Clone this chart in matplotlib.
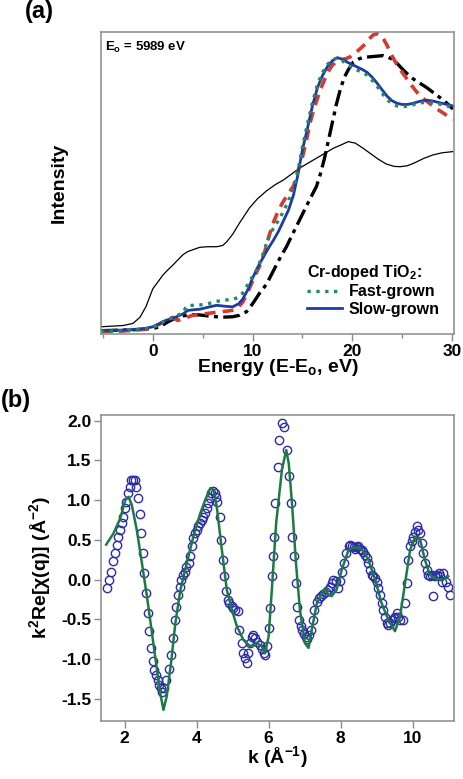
import numpy as np
import matplotlib
matplotlib.use("Agg")
import matplotlib.pyplot as plt
from matplotlib.ticker import MultipleLocator, FormatStrFormatter

plt.rcParams['font.family'] = ['Liberation Sans', 'DejaVu Sans']
plt.rcParams['font.weight'] = 'bold'
plt.rcParams['axes.labelweight'] = 'bold'
plt.rcParams['mathtext.fontset'] = 'custom'
plt.rcParams['mathtext.rm'] = 'Liberation Sans:bold'
plt.rcParams['mathtext.bf'] = 'Liberation Sans:bold'
plt.rcParams['mathtext.default'] = 'bf'

# ---- panel (a): XANES, normalised so the axes run 0..1
e_ref = [-5.2, -3, -2, -1.3, -0.7, 0, 0.5, 1.0, 1.5, 2.0, 3.0, 3.5, 4.7, 5.5, 6.4, 7.0, 7.4,
         8.0, 8.7, 9.7, 10.5, 11.4, 12.3, 13.1, 14.7, 16.4, 18.1, 19.0, 19.6, 20.3, 21.0, 21.8,
         22.6, 23.4, 24.2, 24.8, 25.5, 26.2, 27.2, 28.1, 29.0, 30.1]
i_ref = [0.024, 0.028, 0.035, 0.055, 0.09, 0.15, 0.172, 0.195, 0.212, 0.228, 0.262, 0.273, 0.287,
         0.289, 0.289, 0.293, 0.305, 0.33, 0.368, 0.418, 0.448, 0.474, 0.495, 0.51, 0.549, 0.582,
         0.615, 0.628, 0.637, 0.632, 0.617, 0.598, 0.579, 0.563, 0.555, 0.554, 0.557, 0.566,
         0.582, 0.593, 0.6, 0.604]

e_dd = [-5.2, -2, 0, 0.7, 1.5, 2.2, 3.0, 4.0, 4.7, 5.5, 6.4, 7.2, 8.0, 8.7, 9.4, 10.0, 10.7,
        11.4, 12.1, 12.8, 13.4, 14.0, 14.6, 15.2, 15.8, 16.4, 16.8, 17.2, 17.6, 18.0, 18.4, 18.8,
        19.2, 19.6, 20.1, 20.6, 21.1, 21.8, 22.5, 23.1, 23.5, 24.0, 24.5, 25.0, 25.5, 26.1, 26.8,
        27.5, 28.1, 28.7, 29.3, 30.1]
i_dd = [0.011, 0.014, 0.018, 0.024, 0.04, 0.052, 0.06, 0.064, 0.063, 0.06, 0.057, 0.056, 0.057,
        0.062, 0.074, 0.1, 0.135, 0.165, 0.21, 0.255, 0.289, 0.33, 0.37, 0.41, 0.45, 0.488, 0.53,
        0.58, 0.64, 0.7, 0.76, 0.81, 0.85, 0.875, 0.9, 0.91, 0.916, 0.918, 0.92, 0.922, 0.918,
        0.91, 0.896, 0.878, 0.862, 0.845, 0.83, 0.815, 0.8, 0.785, 0.77, 0.745]

e_red = [-5.2, -3, -1, 0, 0.8, 1.5, 2.0, 2.5, 3.0, 4.0, 5.0, 6.4, 7.5, 8.3, 9.0, 9.6, 10.2,
         10.7, 11.2, 11.7, 12.1, 12.6, 13.1, 13.6, 14.1, 14.6, 15.0, 15.4, 15.75, 16.2, 16.7,
         17.25, 17.6, 18.0, 18.4, 18.9, 19.4, 19.8, 20.3, 20.8, 21.3, 21.7, 22.1, 22.5, 23.0,
         23.5, 24.0, 24.5, 25.1, 25.8, 26.3, 26.8, 27.5, 28.0, 28.5, 29.2, 29.8, 30.1]
i_red = [0.008, 0.01, 0.015, 0.022, 0.035, 0.05, 0.055, 0.045, 0.05, 0.062, 0.066, 0.072, 0.076,
         0.08, 0.105, 0.145, 0.19, 0.225, 0.27, 0.33, 0.37, 0.41, 0.44, 0.465, 0.49, 0.545,
         0.586, 0.64, 0.698, 0.75, 0.8, 0.845, 0.87, 0.89, 0.902, 0.908, 0.912, 0.918, 0.93,
         0.945, 0.96, 0.978, 0.99, 0.995, 0.985, 0.955, 0.92, 0.89, 0.862, 0.83, 0.808, 0.788,
         0.77, 0.757, 0.745, 0.73, 0.715, 0.71]

e_slow = [-5.2, -3, -1, 0, 0.7, 1.35, 2.0, 3.0, 3.5, 4.0, 4.7, 5.7, 6.4, 7.2, 8.0, 8.6, 9.0,
          9.5, 10.0, 10.5, 11.1, 11.6, 12.1, 12.6, 13.1, 13.6, 14.1, 14.5, 15.0, 15.5, 16.0,
          16.5, 17.0, 17.5, 18.0, 18.5, 19.0, 19.5, 20.0, 20.5, 21.0, 21.5, 22.0, 22.5, 23.0,
          23.5, 24.0, 24.5, 25.0, 25.5, 26.0, 26.5, 27.0, 27.5, 28.0, 28.5, 29.0, 29.5, 30.1]
i_slow = [0.011, 0.013, 0.017, 0.024, 0.035, 0.046, 0.052, 0.066, 0.078, 0.08, 0.082, 0.09,
          0.095, 0.092, 0.09, 0.1, 0.115, 0.145, 0.185, 0.22, 0.256, 0.285, 0.311, 0.34, 0.375,
          0.41, 0.46, 0.52, 0.61, 0.68, 0.755, 0.815, 0.855, 0.885, 0.905, 0.915, 0.91, 0.9,
          0.892, 0.884, 0.876, 0.866, 0.85, 0.83, 0.808, 0.787, 0.772, 0.764, 0.76, 0.76, 0.763,
          0.768, 0.772, 0.774, 0.772, 0.768, 0.764, 0.76, 0.755]

e_fast = [-5.2, -3, -1, 0, 0.7, 1.35, 2.0, 3.0, 3.4, 4.0, 4.7, 5.5, 6.4, 7.2, 8.0, 8.5, 9.0,
          9.4, 10.0, 10.4, 11.0, 11.7, 12.3, 13.0, 13.6, 14.1, 14.5, 15.0, 15.5, 16.0, 16.5,
          17.0, 17.5, 18.0, 18.5, 19.0, 19.5, 20.0, 20.5, 21.0, 21.5, 22.0, 22.5, 23.0, 23.5,
          24.0, 24.5, 25.0, 25.5, 26.0, 26.5, 27.0, 27.5, 28.0, 28.5, 29.0, 29.5, 30.1]
i_fast = [0.008, 0.01, 0.016, 0.022, 0.034, 0.046, 0.054, 0.07, 0.093, 0.095, 0.096, 0.1, 0.108,
          0.112, 0.115, 0.12, 0.135, 0.157, 0.19, 0.212, 0.26, 0.33, 0.36, 0.4, 0.44, 0.485,
          0.53, 0.62, 0.695, 0.765, 0.825, 0.865, 0.892, 0.908, 0.914, 0.905, 0.892, 0.882,
          0.874, 0.866, 0.857, 0.84, 0.82, 0.797, 0.776, 0.762, 0.755, 0.753, 0.754, 0.758,
          0.763, 0.766, 0.767, 0.766, 0.763, 0.759, 0.755, 0.75]

# ---- panel (b): EXAFS data (circles) and fit (line)
k_data = [1.51, 1.56, 1.62, 1.68, 1.72, 1.79, 1.83, 1.88, 1.93, 1.95, 2.0, 2.05, 2.09, 2.14, 2.18,
          2.23, 2.28, 2.32, 2.36, 2.42, 2.45, 2.51, 2.55, 2.59, 2.64, 2.68, 2.73, 2.78, 2.82, 2.87,
          2.92, 2.96, 3.01, 3.05, 3.1, 3.16, 3.22, 3.29, 3.34, 3.39, 3.43, 3.48, 3.53, 3.57, 3.62,
          3.67, 3.71, 3.78, 3.82, 3.87, 3.91, 3.96, 4.0, 4.05, 4.1, 4.15, 4.19, 4.24, 4.28, 4.33,
          4.36, 4.4, 4.45, 4.5, 4.54, 4.58, 4.64, 4.67, 4.73, 4.77, 4.81, 4.86, 4.91, 4.98, 5.02,
          5.08, 5.14, 5.19, 5.25, 5.3, 5.35, 5.4, 5.44, 5.49, 5.53, 5.58, 5.63, 5.67, 5.75, 5.81,
          5.86, 5.9, 5.95, 6.0, 6.04, 6.09, 6.12, 6.15, 6.19, 6.25, 6.3, 6.37, 6.43, 6.5, 6.56,
          6.62, 6.66, 6.71, 6.75, 6.8, 6.85, 6.89, 6.94, 6.99, 7.03, 7.08, 7.12, 7.17, 7.22, 7.27,
          7.34, 7.4, 7.46, 7.52, 7.59, 7.64, 7.71, 7.75, 7.8, 7.86, 7.92, 7.98, 8.04, 8.1, 8.15,
          8.22, 8.26, 8.31, 8.36, 8.4, 8.45, 8.49, 8.54, 8.59, 8.63, 8.68, 8.73, 8.77, 8.82, 8.86,
          8.91, 8.96, 9.0, 9.05, 9.1, 9.14, 9.19, 9.23, 9.28, 9.33, 9.37, 9.42, 9.47, 9.51, 9.56,
          9.6, 9.65, 9.72, 9.79, 9.84, 9.88, 9.93, 9.97, 10.02, 10.07, 10.11, 10.16, 10.21, 10.25,
          10.3, 10.34, 10.39, 10.44, 10.48, 10.53, 10.58, 10.62, 10.67, 10.72, 10.76, 10.81,
          10.85, 10.94, 10.99, 11.04]
chi_data = [-0.11, -0.01, 0.1, 0.23, 0.33, 0.44, 0.54, 0.62, 0.71, 0.79, 0.9, 0.98, 1.09, 1.17,
            1.25, 1.25, 1.25, 1.17, 1.02, 0.83, 0.58, 0.33, 0.08, -0.17, -0.42, -0.65, -0.86,
            -1.03, -1.14, -1.2, -1.26, -1.33, -1.37, -1.41, -1.37, -1.26, -1.12, -0.95, -0.74,
            -0.51, -0.34, -0.19, -0.09, 0.0, 0.06, 0.1, 0.16, 0.21, 0.29, 0.42, 0.52, 0.58, 0.62,
            0.67, 0.71, 0.75, 0.79, 0.84, 0.9, 0.96, 1.02, 1.09, 1.11, 1.09, 1.04, 0.98, 0.79,
            0.5, 0.25, 0.04, -0.15, -0.26, -0.3, -0.33, -0.36, -0.38, -0.4, -0.63, -0.8, -0.93,
            -0.99, -1.05, -0.93, -0.8, -0.72, -0.7, -0.74, -0.78, -0.82, -0.88, -0.93, -0.95,
            -0.84, -0.61, -0.36, 0.04, 0.29, 0.54, 0.96, 1.42, 1.76, 1.97, 1.92, 1.63, 1.3, 0.96,
            0.54, 0.29, -0.05, -0.34, -0.51, -0.59, -0.63, -0.68, -0.72, -0.75, -0.7, -0.63,
            -0.51, -0.38, -0.28, -0.23, -0.21, -0.18, -0.16, -0.13, -0.09, -0.05, 0.0, -0.02,
            -0.11, -0.02, 0.1, 0.21, 0.33, 0.42, 0.44, 0.42, 0.41, 0.39, 0.41, 0.42, 0.39, 0.37,
            0.35, 0.31, 0.27, 0.21, 0.12, 0.06, 0.04, 0.02, -0.03, -0.11, -0.19, -0.3, -0.38,
            -0.47, -0.55, -0.57, -0.55, -0.51, -0.49, -0.47, -0.42, -0.47, -0.51, -0.51, -0.3,
            -0.05, 0.25, 0.42, 0.48, 0.54, 0.6, 0.67, 0.62, 0.58, 0.46, 0.33, 0.21, 0.12, 0.06,
            0.04, 0.06, -0.21, 0.04, 0.06, 0.08, 0.04, -0.03, 0.08, -0.03, -0.09, -0.19]

k_fit = [1.49, 1.69, 1.88, 2.02, 2.11, 2.2, 2.34, 2.48, 2.62, 2.76, 2.9, 2.99, 3.08, 3.17, 3.29,
         3.41, 3.55, 3.73, 3.91, 4.1, 4.24, 4.38, 4.47, 4.56, 4.7, 4.84, 4.98, 5.12, 5.3, 5.49,
         5.67, 5.81, 5.9, 6.0, 6.09, 6.21, 6.37, 6.49, 6.56, 6.65, 6.76, 6.87, 7.01, 7.11, 7.2,
         7.34, 7.48, 7.57, 7.66, 7.75, 7.89, 8.03, 8.22, 8.4, 8.59, 8.77, 8.96, 9.14, 9.33, 9.51,
         9.65, 9.79, 9.93, 10.07, 10.21, 10.34, 10.48, 10.67, 10.85, 10.99]
chi_fit = [0.44, 0.58, 0.77, 1.0, 1.04, 0.94, 0.62, 0.21, -0.21, -0.67, -1.14, -1.43, -1.64,
           -1.47, -1.05, -0.55, -0.13, 0.21, 0.54, 0.83, 1.0, 1.15, 1.13, 0.92, 0.38, -0.13,
           -0.38, -0.59, -0.76, -0.84, -0.8, -0.84, -0.93, -0.72, -0.13, 0.71, 1.38, 1.63, 1.46,
           0.96, 0.21, -0.38, -0.8, -0.86, -0.63, -0.3, -0.17, -0.11, -0.19, -0.21, -0.13, 0.12,
           0.37, 0.41, 0.38, 0.25, 0.0, -0.3, -0.51, -0.65, -0.47, -0.05, 0.37, 0.54, 0.5, 0.25,
           0.06, 0.0, 0.0, 0.04]

W, H = 464, 779
fig = plt.figure(figsize=(W / 100, H / 100), dpi=100)

spine_col = '#8a8a8a'


def style_axes(ax):
    for s in ax.spines.values():
        s.set_color(spine_col)
        s.set_linewidth(1.1)
    ax.tick_params(which='both', direction='out', color=spine_col, labelsize=12.5,
                   labelcolor='black', width=1)
    ax.tick_params(which='major', length=5, pad=2)
    ax.tick_params(which='minor', length=3)
    for t in ax.get_xticklabels() + ax.get_yticklabels():
        t.set_fontweight('bold')


# (a)
ax1 = fig.add_axes([101 / W, 1 - 334 / H, 353 / W, 302 / H])
ax1.plot(e_ref, i_ref, color='black', lw=0.9)
ax1.plot(e_dd, i_dd, color='black', lw=2.4, dashes=(5, 1.6, 1.2, 1.6))
ax1.plot(e_red, i_red, color='#d23b35', lw=2.6, dashes=(3, 2))
ax1.plot(e_slow, i_slow, color='#1f3aa5', lw=2.0, label='Slow-grown')
ax1.plot(e_fast, i_fast, color='#238a5c', lw=2.4, ls=':', label='Fast-grown')
ax1.set_xlim(-5.2, 30.2)
ax1.set_ylim(0, 1.0)
ax1.set_yticks([])
ax1.xaxis.set_major_locator(MultipleLocator(10))
ax1.xaxis.set_minor_locator(MultipleLocator(5))
style_axes(ax1)
ax1.set_xlabel('Energy (E-E$_o$, eV)', fontsize=14, labelpad=-1)
ax1.set_ylabel('Intensity', fontsize=14, labelpad=24)
ax1.text(0.012, 0.95, 'E$_o$ = 5989 eV', transform=ax1.transAxes, fontsize=9.5,
         ha='left', va='center')
h, l = ax1.get_legend_handles_labels()
leg = ax1.legend([h[1], h[0]], [l[1], l[0]], title='Cr-doped TiO$_2$:', loc='lower right',
                 bbox_to_anchor=(1.0, 0.01), frameon=False,
                 prop={'weight': 'bold', 'size': 11.5},
                 title_fontproperties={'weight': 'bold', 'size': 11.5},
                 handlelength=2.2, handletextpad=0.4, labelspacing=0.15, alignment='left')
ax1.text(-0.215, 1.03, '(a)', transform=ax1.transAxes, fontsize=17, ha='left', va='bottom')

# (b)
ax2 = fig.add_axes([101 / W, 1 - 721 / H, 353 / W, 306 / H])
ax2.plot(k_fit, chi_fit, color='#1e7a44', lw=1.8, zorder=3)
ax2.plot(k_data, chi_data, ls='none', marker='o', ms=6, mfc='none', mec='#2c2caa',
         mew=1.0, zorder=2)
ax2.set_xlim(1.345, 11.15)
ax2.set_ylim(-1.78, 2.07)
ax2.set_xticks([2, 4, 6, 8, 10])
ax2.set_yticks([-1.5, -1.0, -0.5, 0.0, 0.5, 1.0, 1.5, 2.0])
ax2.yaxis.set_major_formatter(FormatStrFormatter('%.1f'))
style_axes(ax2)
ax2.set_xlabel('k (Å$^{-1}$)', fontsize=14, labelpad=-1)
ax2.set_ylabel('k$^2$Re[χ(q)] (Å$^{-2}$)', fontsize=14, labelpad=6)
ax2.text(-0.285, 1.01, '(b)', transform=ax2.transAxes, fontsize=17, ha='left', va='bottom')

fig.savefig('out.png', dpi=100)
